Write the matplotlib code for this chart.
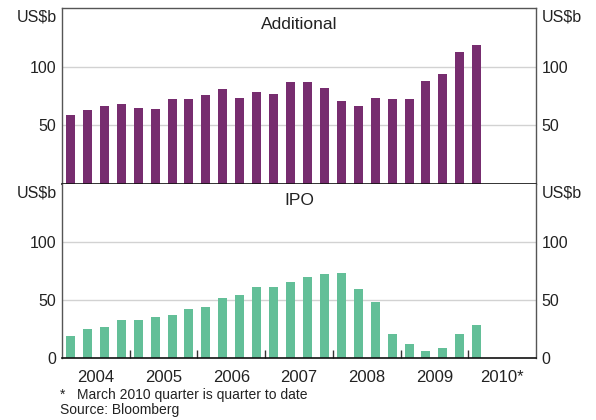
import matplotlib
matplotlib.use("Agg")
import matplotlib.pyplot as plt
import numpy as np

plt.rcParams['font.family'] = ['Liberation Sans', 'DejaVu Sans']

years = ["2004", "2005", "2006", "2007", "2008", "2009", "2010*"]
additional = [59, 63, 66, 68, 65, 64, 72, 72, 76, 81, 73, 78, 77, 87, 87, 82,
              71, 66, 73, 72, 72, 88, 94, 113, 119]
ipo = [19, 25, 27, 33, 33, 35, 37, 42, 44, 52, 54, 61, 61, 65, 70, 72,
       73, 59, 48, 21, 12, 6, 9, 21, 28]

purple = "#772D6F"
green = "#63BF98"
grid_c = "#d2d2d2"
spine_c = "#555555"
txt_c = "#222222"

W, H = 596, 420
fig = plt.figure(figsize=(W / 100, H / 100), dpi=100)

left, right = 62, 536
top_y0, mid_y, bot_y = 8.3, 183.5, 358.0

def fr(x0, y0, x1, y1):
    return [x0 / W, 1 - y1 / H, (x1 - x0) / W, (y1 - y0) / H]

ax1 = fig.add_axes(fr(left, top_y0, right, mid_y))
ax2 = fig.add_axes(fr(left, mid_y, right, bot_y))

nq = len(years) * 4
x = np.arange(len(additional))

for ax, vals, col, label in [(ax1, additional, purple, "Additional"),
                             (ax2, ipo, green, "IPO")]:
    ax.set_xlim(-0.5, nq - 0.5)
    ax.set_ylim(0, 150)
    for g in (50, 100):
        ax.axhline(g, color=grid_c, lw=1.0, zorder=0)
    ax.bar(x, vals, width=0.53, color=col, zorder=2)
    for s in ("left", "right", "top"):
        ax.spines[s].set_color(spine_c)
        ax.spines[s].set_linewidth(1.0)
    ax.spines["bottom"].set_color("#111111")
    ax.spines["bottom"].set_linewidth(1.2)
    ax.spines["bottom"].set_zorder(3)
    ax.text(0.5, 0.905, label, transform=ax.transAxes, ha="center", va="center",
            fontsize=12.5, color=txt_c)
    ax.tick_params(axis="y", length=0, labelsize=11.5, labelcolor=txt_c,
                   left=True, right=True, labelleft=True, labelright=True, pad=4)

ax1.set_yticks([50, 100, 143.5])
ax1.set_yticklabels(["50", "100", "US$b"])
ax2.set_yticks([0, 50, 100, 143.5])
ax2.set_yticklabels(["0", "50", "100", "US$b"])
ax2.spines["top"].set_visible(False)

ax1.set_xticks([])
ax2.set_xticks([3.5 + 4 * i for i in range(len(years) - 1)])
ax2.set_xticklabels([])
ax2.tick_params(axis="x", direction="in", length=6, width=1, color="#333333")
ax2.set_xticks([1.5 + 4 * i for i in range(len(years))], minor=True)
ax2.set_xticklabels(years, minor=True)
ax2.tick_params(axis="x", which="minor", length=0, labelsize=12,
                labelcolor=txt_c, pad=9)

fig.text(60 / W, 1 - 395 / H, "*   March 2010 quarter is quarter to date",
         fontsize=10, color=txt_c, va="center", ha="left")
fig.text(60 / W, 1 - 410 / H, "Source: Bloomberg",
         fontsize=10, color=txt_c, va="center", ha="left")

fig.savefig("out.png", dpi=100, facecolor="white")
